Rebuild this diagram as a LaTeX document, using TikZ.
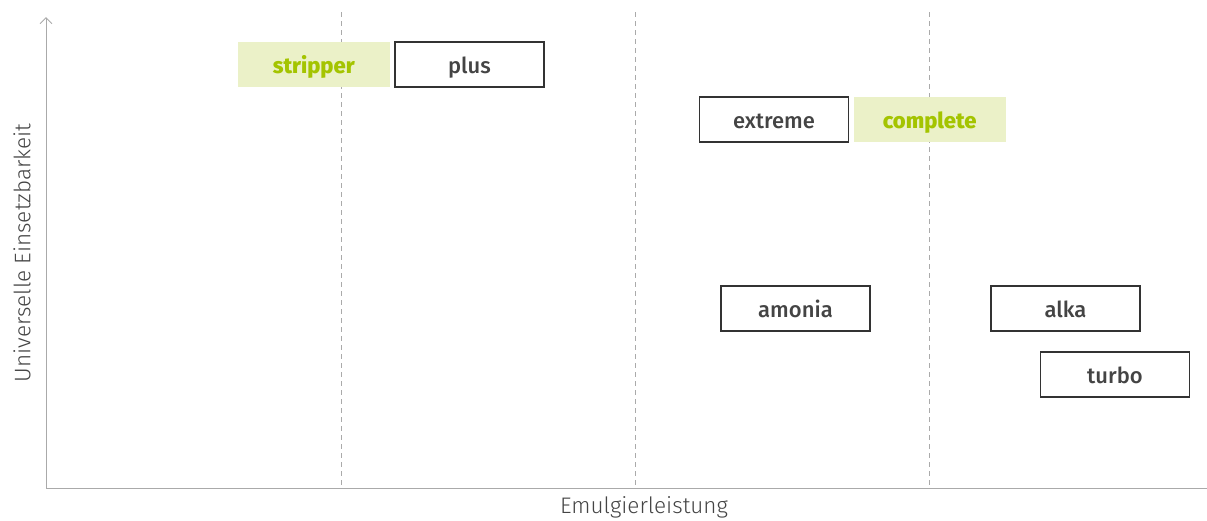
\documentclass[tikz,border=0pt]{standalone}
\usepackage{fontspec}
\setmainfont{Fira Sans}
\newfontfamily\boxfont{Fira Sans Medium}
\newfontfamily\axisfont{Fira Sans Light}
\usetikzlibrary{positioning, arrows.meta}

\definecolor{axisgray}{HTML}{AAAAAA}
\definecolor{limegreen}{HTML}{A4C400}
\definecolor{limefill}{HTML}{EBF1C8}
\definecolor{textgray}{HTML}{444444}

\begin{document}
\begin{tikzpicture}[
    x=1pt, y=-1pt,
    >=Stealth,
    % Styles
    product/.style={ % Black framed product
        draw=black!80,
        line width=1.2pt,
        minimum width=149pt,
        minimum height=45pt,
        inner sep=0pt,
        text height=17.5pt,
        text depth=0pt,
        text=textgray,
        font=\boxfont\fontsize{22}{26}\selectfont
    },
    highlight/.style={ % Green product
        product,
        draw=none,
        fill=limefill,
        text=limegreen,
        minimum width=152pt,
        font=\boxfont\bfseries\fontsize{22}{26}\selectfont
    },
    axislabel/.style={
        text=textgray,
        font=\axisfont\fontsize{22.5}{27}\selectfont
    },
    axis/.style={
        axisgray,
        line width=1pt
    },
    divider/.style={
        axisgray,
        dashed,
        dash pattern=on 5pt off 4pt,
        line width=0.8pt
    }
]
    \useasboundingbox (0,0) rectangle (1207,520);

    % Axes
    \coordinate (origin) at (46,488);
    \coordinate (ytop) at (46,17);
    \coordinate (xend) at (1207,488);
    \draw[axis] (origin) -- (xend);
    \draw[axis, -{Straight Barb[length=6pt, width=12pt]}] (origin) -- (ytop);
    \node[axislabel] (xlabel) at (644,507) {Emulgierleistung};
    \node[axislabel, rotate=90] (ylabel) at (22,253) {Universelle Einsetzbarkeit};

    % Dividers
    \foreach \x in {341, 635, 929}
        \draw[divider] (\x,12) -- (\x,488);

    % Products
    \node[product] (plus) at (469.5,64.5) {plus};
    \node[highlight] (stripper) [left=4pt of plus] {stripper};
    \node[product] (extreme) at (774,119.5) {extreme};
    \node[highlight] (complete) [right=4pt of extreme] {complete};
    \node[product] (amonia) at (795.5,308.5) {amonia};
    \node[product] (alka) at (1065.5,308.5) {alka};
    \node[product] (turbo) at (1115,374.5) {turbo};
\end{tikzpicture}
\end{document}
